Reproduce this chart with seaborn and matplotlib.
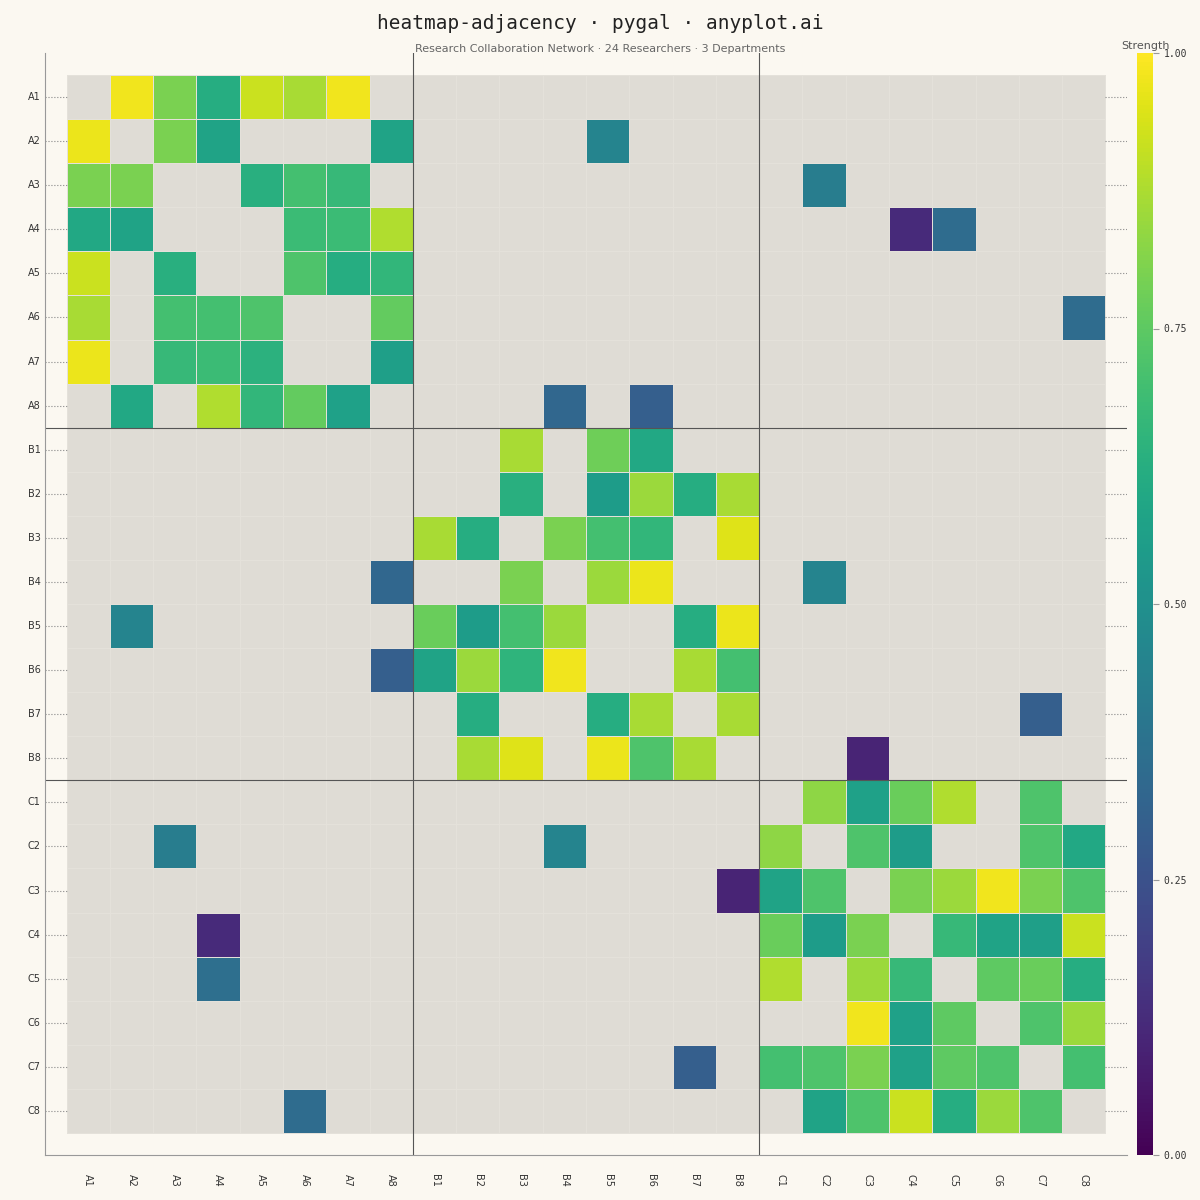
import numpy as np
import pandas as pd
import matplotlib
matplotlib.use('Agg')
import matplotlib.pyplot as plt
from matplotlib.patches import Rectangle
import seaborn as sns

# 연구자 라벨 (부서 A/B/C x 8명)
labels = [f'{d}{i}' for d in 'ABC' for i in range(1, 9)]

# 행별 협업 강도 (그림에서 읽은 값, 없는 칸은 NaN)
edges = {
    'A1': {'A2': .98, 'A3': .80, 'A4': .62, 'A5': .92, 'A6': .87, 'A7': .98},
    'A2': {'A1': .97, 'A3': .80, 'A4': .58, 'A8': .58, 'B5': .45},
    'A3': {'A1': .80, 'A2': .80, 'A5': .63, 'A6': .70, 'A7': .67, 'C2': .42},
    'A4': {'A1': .60, 'A2': .58, 'A6': .68, 'A7': .68, 'A8': .88, 'C4': .12, 'C5': .35},
    'A5': {'A1': .92, 'A3': .63, 'A6': .72, 'A7': .62, 'A8': .66},
    'A6': {'A1': .87, 'A3': .70, 'A4': .70, 'A5': .72, 'A8': .76, 'C8': .35},
    'A7': {'A1': .97, 'A3': .67, 'A4': .68, 'A5': .64, 'A8': .56},
    'A8': {'A2': .60, 'A4': .88, 'A5': .66, 'A6': .76, 'A7': .57, 'B4': .33, 'B6': .30},
    'B1': {'B3': .87, 'B5': .78, 'B6': .60},
    'B2': {'B3': .63, 'B5': .55, 'B6': .85, 'B7': .62, 'B8': .87},
    'B3': {'B1': .87, 'B2': .62, 'B4': .80, 'B5': .70, 'B6': .66, 'B8': .95},
    'B4': {'A8': .33, 'B3': .80, 'B5': .85, 'B6': .97, 'C2': .45},
    'B5': {'A2': .45, 'B1': .77, 'B2': .55, 'B3': .70, 'B4': .85, 'B7': .62, 'B8': .97},
    'B6': {'A8': .30, 'B1': .58, 'B2': .85, 'B3': .65, 'B4': .98, 'B7': .87, 'B8': .70},
    'B7': {'B2': .62, 'B5': .62, 'B6': .87, 'B8': .87, 'C7': .30},
    'B8': {'B2': .87, 'B3': .95, 'B5': .97, 'B6': .72, 'B7': .87, 'C3': .10},
    'C1': {'C2': .83, 'C3': .57, 'C4': .77, 'C5': .88, 'C7': .72},
    'C2': {'A3': .42, 'B4': .45, 'C1': .83, 'C3': .72, 'C4': .55, 'C7': .72, 'C8': .60},
    'C3': {'B8': .10, 'C1': .58, 'C2': .72, 'C4': .80, 'C5': .85, 'C6': .98, 'C7': .80, 'C8': .72},
    'C4': {'A4': .12, 'C1': .77, 'C2': .55, 'C3': .80, 'C5': .67, 'C6': .58, 'C7': .56, 'C8': .92},
    'C5': {'A4': .36, 'C1': .88, 'C3': .85, 'C4': .67, 'C6': .75, 'C7': .77, 'C8': .62},
    'C6': {'C3': .98, 'C4': .57, 'C5': .75, 'C7': .72, 'C8': .85},
    'C7': {'B7': .30, 'C1': .70, 'C2': .72, 'C3': .80, 'C4': .57, 'C5': .75, 'C6': .72, 'C8': .70},
    'C8': {'A6': .35, 'C2': .58, 'C3': .72, 'C4': .92, 'C5': .62, 'C6': .85, 'C7': .72},
}

df = pd.DataFrame(np.nan, index=labels, columns=labels)
for r, row in edges.items():
    for c, v in row.items():
        df.loc[r, c] = v

BG = '#fbf8f1'
plt.rcParams['font.family'] = ['DejaVu Sans']
fig = plt.figure(figsize=(12, 12), dpi=100, facecolor=BG)
ax = fig.add_axes([45/1200, 45/1200, 1082/1200, 1102/1200])
cax = fig.add_axes([1137/1200, 45/1200, 16/1200, 1102/1200])
ax.set_facecolor(BG)

n = len(labels)
ax.add_patch(Rectangle((0, 0), n, n, facecolor='#dfdcd5', edgecolor='none', zorder=0))
sns.heatmap(df, ax=ax, cbar_ax=cax, cmap='viridis', vmin=0, vmax=1,
            linewidths=0.4, linecolor='#e4e1da', square=False)
ax.set_xlim(-0.5, n + 0.5)
ax.set_ylim(n + 0.5, -0.5)

# 부서 구분선
for k in (8, 16):
    ax.axvline(k, color='#555555', lw=0.8)
    ax.axhline(k, color='#555555', lw=0.8)

# 여백의 점선 눈금
for i in range(n):
    ax.plot([-0.5, 0], [i + 0.5] * 2, ls=':', color='#888888', lw=0.8)
    ax.plot([n, n + 0.5], [i + 0.5] * 2, ls=':', color='#888888', lw=0.8)

ax.set_xticks(np.arange(n) + 0.5)
ax.set_xticklabels(labels, rotation=270, fontsize=7, color='#333333')
ax.set_yticks(np.arange(n) + 0.5)
ax.set_yticklabels(labels, rotation=0, fontsize=7, color='#333333')
ax.tick_params(length=0, pad=3)
ax.tick_params(axis='x', pad=14)
ax.set_xlabel('')
ax.set_ylabel('')
for s in ('top', 'right'):
    ax.spines[s].set_visible(False)
for s in ('left', 'bottom'):
    ax.spines[s].set_visible(True)
    ax.spines[s].set_color('#999999')

cax.set_yticks([0, 0.25, 0.5, 0.75, 1.0])
cax.set_yticklabels(['0.00', '0.25', '0.50', '0.75', '1.00'], fontsize=7,
                    family='DejaVu Sans Mono', color='#333333')
cax.tick_params(length=4, color='#999999')
cax.set_title('Strength', fontsize=8, color='#555555', pad=3)

fig.text(0.5, 0.988, 'heatmap-adjacency · pygal · anyplot.ai', ha='center', va='top',
         fontsize=14, family='DejaVu Sans Mono', color='#222222')
fig.text(0.5, 0.963, 'Research Collaboration Network · 24 Researchers · 3 Departments',
         ha='center', va='top', fontsize=8, color='#666666')

fig.savefig('out.png', dpi=100, facecolor=BG)
